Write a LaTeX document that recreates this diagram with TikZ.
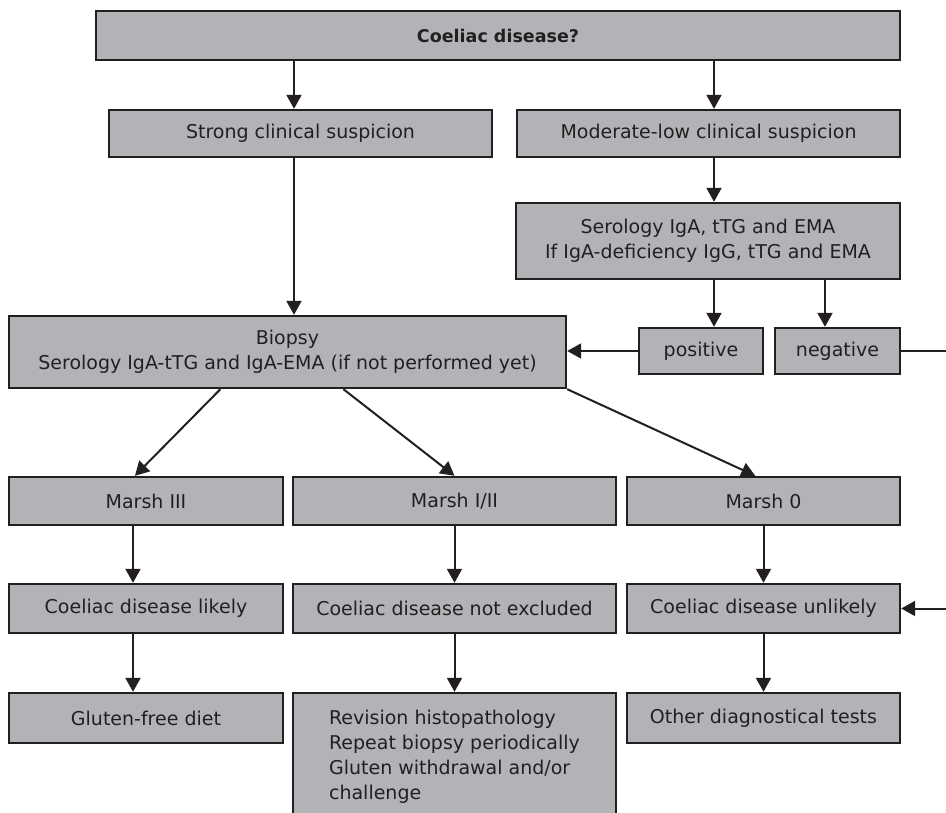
\documentclass[tikz,border=0pt]{standalone}
\usepackage{fontspec}
\setmainfont{DejaVu Sans}
\usetikzlibrary{arrows.meta,calc,positioning}

\definecolor{boxgray}{RGB}{178,179,183}
\definecolor{inkdark}{RGB}{35,31,32}

\tikzset{
  box/.style={draw=inkdark, line width=2.4pt, fill=boxgray, text=inkdark,
    inner sep=0pt, align=center, font=\fontsize{19}{25}\selectfont},
  titlebox/.style={box, font=\fontsize{17.5}{22}\selectfont\bfseries},
  arr/.style={draw=inkdark, line width=2pt, -{Triangle[length=14pt,width=15pt]}},
  plainline/.style={draw=inkdark, line width=2pt},
}

\begin{document}
\begin{tikzpicture}[x=1pt,y=-1pt]
\path[use as bounding box] (0,0) rectangle (946,813);
\clip (0,0) rectangle (946,813);

% columns the arrows run along
\coordinate (colA) at (294,0);
\coordinate (colB) at (714,0);
\coordinate (colC) at (825,0);
\coordinate (colL) at (133,0);

\node[titlebox, minimum width=804pt, minimum height=49pt] (coeliac) at (498,35.5) {Coeliac disease?};
\node[box, minimum width=383pt, minimum height=47pt] (strong) at (300.5,133.5) {Strong clinical suspicion};
\node[box, minimum width=383pt, minimum height=47pt] (moderate) at (708.5,133.5) {Moderate-low clinical suspicion};
\node[box, minimum width=384pt, minimum height=76pt] (serology) at (708,241) {Serology IgA, tTG and EMA\\If IgA-deficiency IgG, tTG and EMA};
\node[box, minimum width=124pt, minimum height=46pt] (positive) at (701,351) {positive};
\node[box, minimum width=125pt, minimum height=46pt] (negative) at (837.5,351) {negative};
\node[box, minimum width=557pt, minimum height=72pt] (biopsy) at (287.5,352) {Biopsy\\Serology IgA-tTG and IgA-EMA (if not performed yet)};

\node[box, minimum width=274pt, minimum height=48pt] (marsh3) at (146,501) {Marsh III};
\node[box, minimum width=323pt, minimum height=48pt] (marsh12) at (454.5,501) {Marsh I/II};
\node[box, minimum width=273pt, minimum height=48pt] (marsh0) at (763.5,501) {Marsh 0};

\node[box, minimum width=274pt, minimum height=49pt] (likely) at (146,608.5) {Coeliac disease likely};
\node[box, minimum width=323pt, minimum height=49pt] (notexcl) at (454.5,608.5) {Coeliac disease not excluded};
\node[box, minimum width=273pt, minimum height=49pt] (unlikely) at (763.5,608.5) {Coeliac disease unlikely};

\node[box, minimum width=274pt, minimum height=50pt] (gluten) at (146,718) {Gluten-free diet};
\node[box, minimum width=323pt, minimum height=127pt, align=left] (revision) at (454.5,756.5) {Revision histopathology\\Repeat biopsy periodically\\Gluten withdrawal and/or\\challenge};
\node[box, minimum width=273pt, minimum height=50pt] (other) at (763.5,718) {Other diagnostical tests};

\coordinate (negout) at (946,351);
\coordinate (unlin) at (946,608.5);

\draw[arr] (coeliac.south -| colA) -- (strong.north -| colA);
\draw[arr] (coeliac.south -| colB) -- (moderate.north -| colB);
\draw[arr] (strong.south -| colA) -- (biopsy.north -| colA);
\draw[arr] (moderate.south -| colB) -- (serology.north -| colB);
\draw[arr] (serology.south -| colB) -- (positive.north -| colB);
\draw[arr] (serology.south -| colC) -- (negative.north -| colC);
\draw[arr] (positive.west) -- (biopsy.east |- positive.west);
\draw[plainline] (negative.east) -- (negout);

\draw[arr] ($(biopsy.south west)!0.38!(biopsy.south east)$) -- ($(marsh3.north west)!0.46!(marsh3.north east)$);
\draw[arr] ($(biopsy.south west)!0.6!(biopsy.south east)$) -- (marsh12.north);
\draw[arr] (biopsy.south east) -- ($(marsh0.north west)!0.47!(marsh0.north east)$);

\draw[arr] (marsh3.south -| colL) -- (likely.north -| colL);
\draw[arr] (marsh12.south) -- (notexcl.north);
\draw[arr] (marsh0.south) -- (unlikely.north);
\draw[arr] (unlin) -- (unlikely.east);

\draw[arr] (likely.south -| colL) -- (gluten.north -| colL);
\draw[arr] (notexcl.south) -- (revision.north);
\draw[arr] (unlikely.south) -- (other.north);
\end{tikzpicture}
\end{document}
